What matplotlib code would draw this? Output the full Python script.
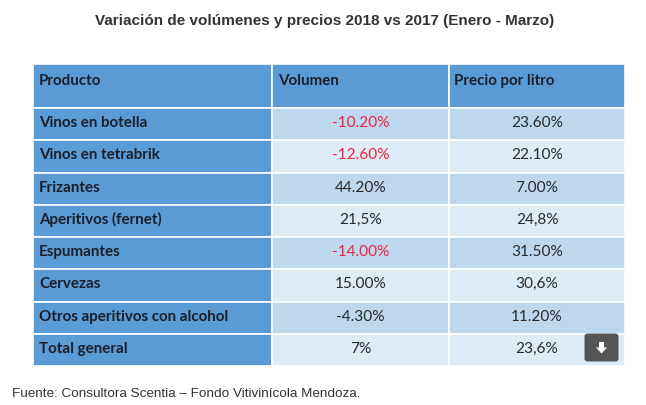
import matplotlib
matplotlib.use("Agg")
import matplotlib.pyplot as plt
from matplotlib.patches import Rectangle, FancyBboxPatch, Polygon

title = "Variación de volúmenes y precios 2018 vs 2017 (Enero - Marzo)"
headers = ["Producto", "Volumen", "Precio por litro"]
productos = ["Vinos en botella", "Vinos en tetrabrik", "Frizantes", "Aperitivos (fernet)",
             "Espumantes", "Cervezas", "Otros aperitivos con alcohol", "Total general"]
volumen = ["-10.20%", "-12.60%", "44.20%", "21,5%", "-14.00%", "15.00%", "-4.30%", "7%"]
precio = ["23.60%", "22.10%", "7.00%", "24,8%", "31.50%", "30,6%", "11.20%", "23,6%"]
volumen_rojo = [True, True, False, False, True, False, False, False]
fuente = "Fuente: Consultora Scentia – Fondo Vitivinícola Mendoza."

W, H = 646, 405
fig = plt.figure(figsize=(W / 100, H / 100), dpi=100)
ax = fig.add_axes([0, 0, 1, 1])
ax.set_xlim(0, W)
ax.set_ylim(H, 0)
ax.axis("off")

col_edges = [33, 272, 449, 625]
head_top, head_bot = 64, 108
row_h = (366 - head_bot) / len(productos)

blue = "#5B9BD5"
light = "#BDD7EE"
lighter = "#DDEBF7"
txt = "#1b1f2a"
font_b = ["Lato", "DejaVu Sans"]
fs = 10.9

# header
for i in range(3):
    ax.add_patch(Rectangle((col_edges[i], head_top), col_edges[i + 1] - col_edges[i],
                           head_bot - head_top, facecolor=blue, edgecolor="white", lw=1.2))
hx = [39, 278, 454]
for i, h in enumerate(headers):
    ax.text(hx[i], head_top + 17, h, ha="left", va="center", fontsize=fs,
            fontweight="bold", color=txt, family=font_b)

for r, prod in enumerate(productos):
    y0 = head_bot + r * row_h
    bg = light if r % 2 == 0 else lighter
    ax.add_patch(Rectangle((col_edges[0], y0), col_edges[1] - col_edges[0], row_h,
                           facecolor=blue, edgecolor="white", lw=1.2))
    for c in (1, 2):
        ax.add_patch(Rectangle((col_edges[c], y0), col_edges[c + 1] - col_edges[c], row_h,
                               facecolor=bg, edgecolor="white", lw=1.2))
    yc = y0 + row_h / 2 - 1
    ax.text(39, yc, prod, ha="left", va="center", fontsize=fs, fontweight="bold",
            color=txt, family=font_b)
    ax.text((col_edges[1] + col_edges[2]) / 2, yc, volumen[r], ha="center", va="center",
            fontsize=11.1, color="#f0243a" if volumen_rojo[r] else "#2a2a2a", family=font_b)
    ax.text((col_edges[2] + col_edges[3]) / 2, yc, precio[r], ha="center", va="center",
            fontsize=11.1, color="#2a2a2a", family=font_b)

# download icon
ax.add_patch(FancyBboxPatch((586, 335), 31, 25, boxstyle="round,pad=1.5,rounding_size=3",
                            facecolor="#555555", edgecolor="none"))
cx, cy = 601.5, 347.5
ax.add_patch(Rectangle((cx - 2.2, cy - 6), 4.4, 6, facecolor="white", edgecolor="none"))
ax.add_patch(Polygon([(cx - 5.5, cy), (cx + 5.5, cy), (cx, cy + 6)], closed=True,
                     facecolor="white", edgecolor="none"))

ax.text(325, 21, title, ha="center", va="center", fontsize=11, fontweight="bold",
        color="#333333", family=["Liberation Sans", "DejaVu Sans"])
ax.text(12, 394, fuente, ha="left", va="center", fontsize=9.7, color="#333333",
        family=["Liberation Sans", "DejaVu Sans"])

fig.savefig("out.png", dpi=100, facecolor="white")
